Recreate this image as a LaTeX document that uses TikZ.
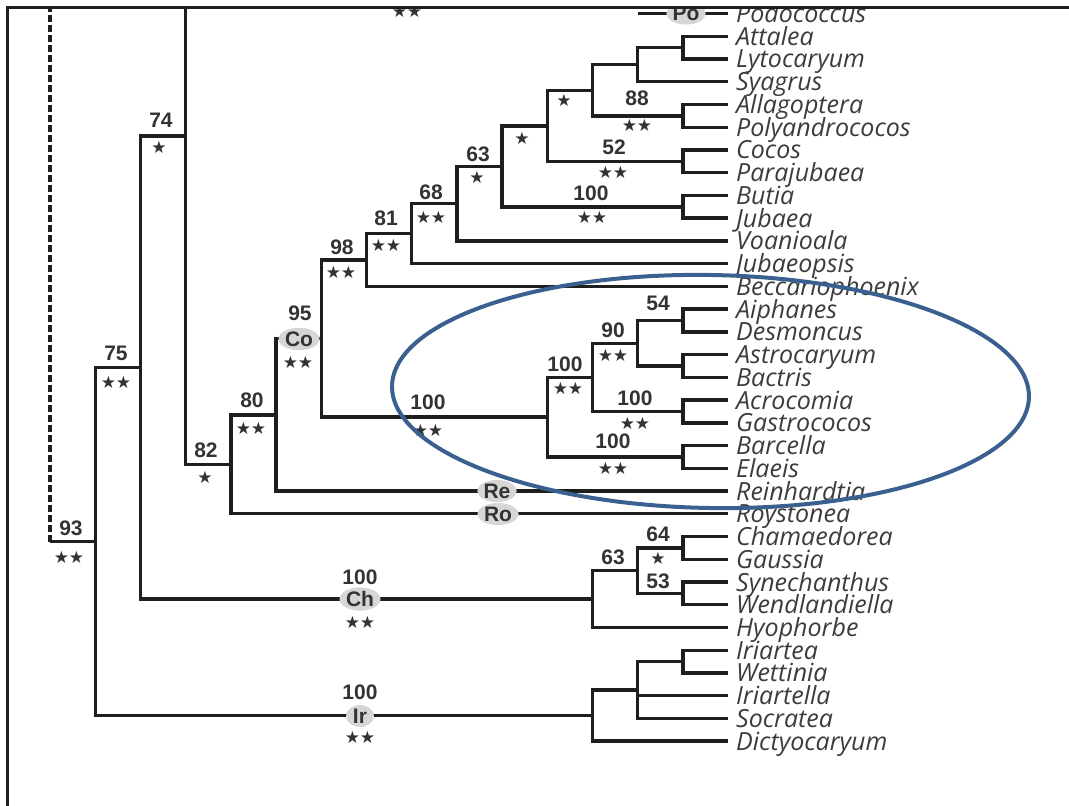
\documentclass[tikz,border=0pt]{standalone}
\usepackage{fontspec}
\setmainfont{Liberation Sans}
\newfontfamily\taxafont{Open Sans}
\newfontfamily\symfont{DejaVu Sans}
\usepackage{xcolor}
\usetikzlibrary{shapes.geometric}

\definecolor{treeline}{HTML}{1E1E1E}
\definecolor{labelgray}{HTML}{333333}
\definecolor{taxgray}{HTML}{3C3C3C}
\definecolor{bubblegray}{HTML}{D6D6D6}
\definecolor{ovalblue}{HTML}{3A6090}

\tikzset{
  branch/.style={draw=treeline,line width=3.4pt},
  taxon/.style={anchor=base west,inner sep=0pt,text=taxgray,font=\fontsize{25}{25}\taxafont\itshape},
  support/.style={inner sep=0pt,text=labelgray,font=\fontsize{21}{21}\bfseries},
  stars/.style={inner sep=0pt,text=labelgray,font=\fontsize{17}{17}\symfont},
  clade/.style={ellipse,fill=bubblegray,inner sep=0.5pt,minimum width=28pt,minimum height=22pt,text=labelgray,font=\fontsize{21}{21}\bfseries},
}

\begin{document}
\begin{tikzpicture}[x=1pt,y=-1pt]
  \useasboundingbox (0,0) rectangle (1069,806);
  \begin{scope}
  \clip (7,7) rectangle (1069,806);
  % leaves
  \foreach \t [count=\i from 0] in {Podococcus,Attalea,Lytocaryum,Syagrus,Allagoptera,Polyandrococos,Cocos,Parajubaea,Butia,Jubaea,Voanioala,Jubaeopsis,Beccariophoenix,Aiphanes,Desmoncus,Astrocaryum,Bactris,Acrocomia,Gastrococos,Barcella,Elaeis,Reinhardtia,Roystonea,Chamaedorea,Gaussia,Synechanthus,Wendlandiella,Hyophorbe,Iriartea,Wettinia,Iriartella,Socratea,Dictyocaryum}{
    \coordinate (l\i) at (728,{13.5+22.74*\i});
    \node[taxon] (t\i) at ([shift={(8,9)}]l\i) {\t};
  }
  % internal nodes
  \coordinate (A1) at (682.8,47.6);   \coordinate (A2) at (637.6,64.65);
  \coordinate (A3) at (682.8,115.85); \coordinate (A4) at (592.4,90.25);
  \coordinate (CP) at (682.8,161.3);  \coordinate (A5) at (547.2,125.8);
  \coordinate (BJ) at (682.8,206.8);  \coordinate (A6) at (502,166.3);
  \coordinate (A7) at (456.8,203.6);  \coordinate (A8) at (411.6,233.6);
  \coordinate (A9) at (366.4,260);
  \coordinate (B1) at (682.8,320.5);  \coordinate (B2) at (682.8,366);
  \coordinate (B3) at (637.6,343.2);  \coordinate (AG) at (682.8,411.4);
  \coordinate (B4) at (592.4,377.3);  \coordinate (BE) at (682.8,457);
  \coordinate (B5) at (547.2,417.1);
  \coordinate (A10) at (321.2,338.6); \coordinate (A11) at (276,414.8);
  \coordinate (A12) at (230.8,464.3); \coordinate (A13) at (185.6,136);
  \coordinate (C1) at (682.8,547.9);  \coordinate (C2) at (682.8,593.4);
  \coordinate (C3) at (637.6,570.6);  \coordinate (C4) at (592.4,599);
  \coordinate (A14) at (140.4,367.5);
  \coordinate (I1) at (682.8,661.6);  \coordinate (I2) at (637.6,690);
  \coordinate (I3) at (592.4,715.6);
  \coordinate (A15) at (95.2,541.5);  \coordinate (R) at (50,541.5);
  \coordinate (P0) at (637.6,13.5);
  \coordinate (top3) at (185.6,0);    \coordinate (rtop) at (50,0);
  % branches
  \foreach \p/\c in {A1/l1,A1/l2,A2/A1,A2/l3,A3/l4,A3/l5,A4/A2,A4/A3,CP/l6,CP/l7,
      A5/A4,A5/CP,BJ/l8,BJ/l9,A6/A5,A6/BJ,A7/A6,A7/l10,A8/A7,A8/l11,A9/A8,A9/l12,
      B1/l13,B1/l14,B2/l15,B2/l16,B3/B1,B3/B2,AG/l17,AG/l18,B4/B3,B4/AG,BE/l19,BE/l20,
      B5/B4,B5/BE,A10/A9,A10/B5,A11/A10,A11/l21,A12/A11,A12/l22,A13/A12,A13/top3,
      C1/l23,C1/l24,C2/l25,C2/l26,C3/C1,C3/C2,C4/C3,C4/l27,A14/A13,A14/C4,
      I1/l28,I1/l29,I2/I1,I2/l30,I2/l31,I3/I2,I3/l32,A15/A14,A15/I3,R/A15,P0/l0}
    \draw[branch] (\p) |- (\c);
  \draw[branch,dash pattern=on 7pt off 3pt] (R) -- (rtop);
  % support values
  \foreach \x/\y/\v [count=\k] in {161/120/74,116/353/75,71/528/93,206/450/82,252/400/80,
      300/313/95,342/247/98,386/218/81,431/192/68,478/154/63,637/98/88,614/147/52,
      591/193/100,658/303/54,613/330/90,565/364/100,635/398/100,613/441/100,
      428/402/100,360/577/100,360/692/100,658/534/64,613/557/63,658/581/53}
    \node[support] (s\k) at (\x,\y) {\v};
  \foreach \x/\y/\v [count=\k] in {159/147/★,116/382/★★,69/557/★★,205/477/★,251/428/★★,
      298/362/★★,341/272/★★,386/245/★★,431/217/★★,477/177/★,522/138/★,564/100/★,
      637/125/★★,613/172/★★,592/217/★★,613/355/★★,568/388/★★,635/423/★★,
      613/468/★★,428/430/★★,360/622/★★,360/737/★★,658/558/★,407/11/★★}
    \node[stars] (p\k) at (\x,\y) {\v};
  % clade tags
  \node[clade] (co) at (299,339) {Co};
  \node[clade] (re) at (497,491) {Re};
  \node[clade] (ro) at (498,514) {Ro};
  \node[clade] (ch) at (360,599) {Ch};
  \node[clade] (ir) at (360,716) {Ir};
  \node[clade] (po) at (686,13.5) {Po};
  \end{scope}
  % highlighted clade
  \draw[ovalblue,line width=4pt,rotate around={-1:(710.5,391.5)}] (710.5,391.5) ellipse [x radius=318.5,y radius=116.5];
  % frame
  \draw[line width=3pt,treeline] (7,806) -- (7,7) -- (1069,7);
\end{tikzpicture}
\end{document}
